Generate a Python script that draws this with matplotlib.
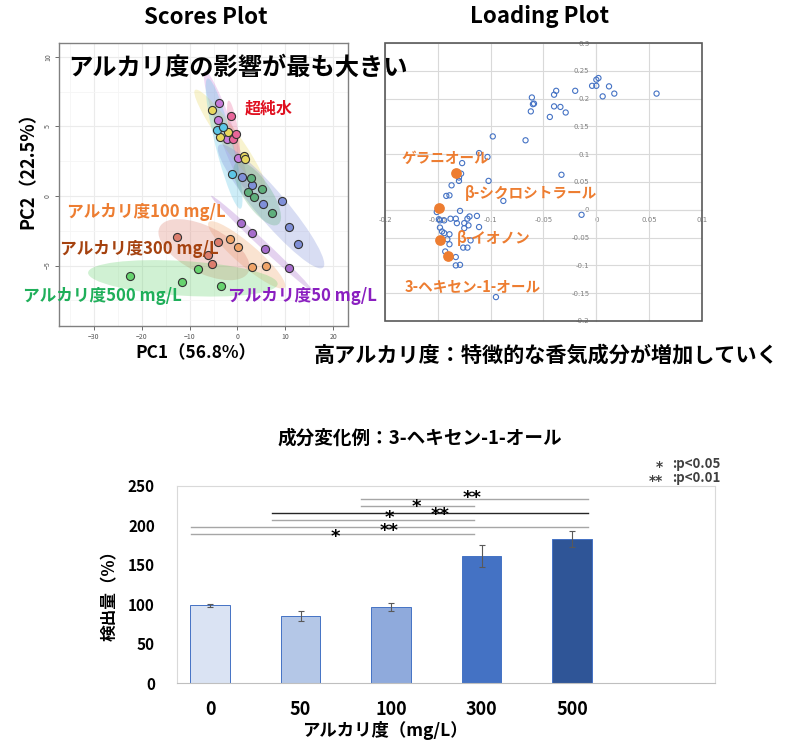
import numpy as np
import matplotlib
matplotlib.use('Agg')
import matplotlib.pyplot as plt
from matplotlib.patches import Ellipse, Rectangle

plt.rcParams['font.family'] = ['Noto Sans CJK JP', 'DejaVu Sans']

W, H = 800, 745

# ---- scores plot (PC1 / PC2), one entry per sample ----
score_group = (['A'] * 4 + ['B'] * 5 + ['超純水'] * 3 + ['C'] * 3 + ['D'] * 6 + ['E'] * 5
               + ['50'] * 4 + ['100'] * 4 + ['300'] * 4 + ['500'] * 4)
score_pc1 = [-3.77, -3.97, -2.22, 0.08,
             -5.36, -1.88, -3.62, 1.26, 1.61,
             -1.38, -0.84, -0.27,
             -4.31, -2.93, -1.17,
             1.05, 3.14, 5.31, 9.29, 10.75, 12.55,
             2.80, 5.10, 2.18, 3.35, 7.20,
             0.71, 3.14, 5.65, 10.82,
             -1.53, 0.21, 3.01, 6.00,
             -12.68, -3.97, -6.07, -5.23,
             -22.45, -11.63, -8.16, -3.41]
score_pc2 = [6.71, 5.47, 4.10, 2.71,
             6.19, 4.63, 4.27, 2.88, 2.64,
             5.73, 4.10, 4.46,
             4.75, 4.99, 1.56,
             1.39, 0.77, -0.60, -0.36, -2.21, -3.47,
             1.32, 0.53, 0.31, -0.05, -1.24,
             -1.96, -2.68, -3.81, -5.16,
             -3.12, -3.69, -5.13, -5.01,
             -2.93, -3.33, -4.27, -4.91,
             -5.76, -6.21, -5.25, -6.47]
group_names = ['A', 'B', '超純水', 'C', 'D', 'E', '50', '100', '300', '500']
group_colors = ['#C77BD9', '#E8D860', '#E8669A', '#5CC6E6', '#7F8FD8', '#5FAF7C',
                '#A66CCC', '#F0A468', '#DC7E6E', '#66D36E']

# ---- loading plot ----
loading_x = [0.002, 0.0, -0.004, 0.0, 0.012, 0.017, 0.006, 0.057, -0.020, -0.038, -0.040,
             -0.061, -0.059, -0.060, -0.062, -0.040, -0.034, -0.029, -0.044, -0.067, -0.098,
             -0.033, -0.014,
             -0.111, -0.103, -0.127, -0.131, -0.128, -0.130, -0.130, -0.137, -0.139, -0.142,
             -0.102, -0.088, -0.129, -0.151, -0.149, -0.148, -0.144, -0.138, -0.133, -0.132,
             -0.120, -0.122, -0.113, -0.125, -0.121, -0.125, -0.111, -0.148, -0.146, -0.144,
             -0.139, -0.141, -0.139, -0.119, -0.126, -0.122, -0.143, -0.133, -0.133, -0.129,
             -0.095]
loading_y = [0.237, 0.234, 0.223, 0.223, 0.222, 0.209, 0.204, 0.209, 0.214, 0.214, 0.207,
             0.202, 0.191, 0.190, 0.177, 0.186, 0.185, 0.175, 0.167, 0.125, 0.132,
             0.063, -0.009,
             0.102, 0.095, 0.084, 0.065, 0.065, 0.058, 0.052, 0.044, 0.026, 0.025,
             0.052, 0.016, -0.002, -0.004, -0.017, -0.019, -0.019, -0.016, -0.016, -0.024,
             -0.012, -0.016, -0.011, -0.024, -0.028, -0.033, -0.031, -0.032, -0.039, -0.042,
             -0.044, -0.053, -0.062, -0.055, -0.068, -0.068, -0.075, -0.085, -0.100, -0.099,
             -0.157]
key_names = ['ゲラニオール', 'β-シクロシトラール', 'β-イオノン', '3-ヘキセン-1-オール']
key_x = [-0.133, -0.149, -0.148, -0.140]
key_y = [0.067, 0.004, -0.054, -0.083]

# ---- bar chart ----
alk_levels = ['0', '50', '100', '300', '500']
amount = [98.5, 85.4, 96.0, 160.7, 182.7]
amount_err = [2.0, 6.5, 5.0, 14.0, 10.0]
bar_colors = ['#DAE3F3', '#B4C7E7', '#8FAADC', '#4472C4', '#2F5597']
# significance brackets (category units / %)
sig_start = [1.67, 1.67, 0.69, 0.69, -0.21, -0.21]
sig_end = [4.18, 2.92, 4.18, 2.92, 4.18, 2.92]
sig_height = [234, 225, 216, 207, 198, 188.7]
sig_mark = ['**', '*', '**', '*', '**', '*']
sig_mark_x = [2.90, 2.28, 2.54, 1.98, 1.98, 1.38]
sig_mark_y = [239.4, 228.8, 218.3, 211.5, 201.0, 190.8]


def fx(px):
    return px / W


def fy(py):
    return 1 - py / H


def conf_ellipse(ax, x, y, color):
    # 95% normal confidence ellipse from the group's covariance
    cov = np.cov(x, y)
    vals, vecs = np.linalg.eigh(cov)
    order = vals.argsort()[::-1]
    vals, vecs = vals[order], vecs[:, order]
    angle = np.degrees(np.arctan2(vecs[1, 0], vecs[0, 0]))
    k = np.sqrt(5.991)
    w, h = 2 * k * np.sqrt(np.maximum(vals, 1e-6))
    ax.add_patch(Ellipse((np.mean(x), np.mean(y)), w, h, angle=angle,
                         facecolor=color, edgecolor='none', alpha=0.3, zorder=1))


fig = plt.figure(figsize=(W / 100, H / 100), dpi=100)

# ================= Scores plot =================
ax1 = fig.add_axes([fx(59), fy(326), 289 / W, 283 / H])
pc1 = np.array(score_pc1)
pc2 = np.array(score_pc2)
grp = np.array(score_group)
for name, col in zip(group_names, group_colors):
    m = grp == name
    conf_ellipse(ax1, pc1[m], pc2[m], col)
for name, col in zip(group_names, group_colors):
    m = grp == name
    ax1.scatter(pc1[m], pc2[m], s=34, color=col, edgecolor='#333333', linewidth=0.8, zorder=3)
ax1.set_xlim(-37.3, 23.1)
ax1.set_ylim(-9.35, 11.0)
ax1.set_xticks([-30, -20, -10, 0, 10, 20])
ax1.set_yticks([-5, 0, 5, 10])
ax1.set_xticks(np.arange(-35, 25, 10), minor=True)
ax1.set_yticks([-7.5, -2.5, 2.5, 7.5], minor=True)
ax1.grid(which='major', color='#EBEBEB', linewidth=0.8)
ax1.grid(which='minor', color='#F5F5F5', linewidth=0.6)
ax1.set_axisbelow(True)
ax1.tick_params(which='major', labelsize=5, colors='#555555', length=3, width=0.6, pad=2)
ax1.tick_params(which='minor', length=0)
for lab in ax1.get_yticklabels():
    lab.set_rotation(90)
    lab.set_va('center')
for s in ax1.spines.values():
    s.set_color('#808080')
    s.set_linewidth(1)

fig.text(fx(206), fy(17), 'Scores Plot', ha='center', va='center', fontsize=16, weight='bold')
fig.text(fx(196), fy(353), 'PC1（56.8%）', ha='center', va='center', fontsize=12.5, weight='bold')
fig.text(fx(28), fy(166), 'PC2（22.5%）', ha='center', va='center', fontsize=13,
         weight='bold', rotation=90)

fig.text(fx(245), fy(109), '超純水', ha='left', va='center', fontsize=11.5, weight='bold',
         color='#E01020')
fig.text(fx(67), fy(212), 'アルカリ度100 mg/L', ha='left', va='center', fontsize=12,
         weight='bold', color='#ED7D31')
fig.text(fx(60), fy(249), 'アルカリ度300 mg/L', ha='left', va='center', fontsize=12,
         weight='bold', color='#A5420F')
fig.text(fx(23), fy(296), 'アルカリ度500 mg/L', ha='left', va='center', fontsize=12,
         weight='bold', color='#1FAF5A')
fig.text(fx(228), fy(296), 'アルカリ度50 mg/L', ha='left', va='center', fontsize=12,
         weight='bold', color='#8A1FC0')

# ================= Loading plot =================
ax2 = fig.add_axes([fx(385), fy(321), 317 / W, 278 / H])
ax2.scatter(loading_x, loading_y, s=14, facecolor='none', edgecolor='#4472C4',
            linewidth=0.8, zorder=3)
ax2.scatter(key_x, key_y, s=45, color='#ED7D31', zorder=4)
ax2.set_xlim(-0.2, 0.1)
ax2.set_ylim(-0.2, 0.3)
ax2.set_xticks(np.arange(-0.2, 0.101, 0.05))
ax2.set_yticks(np.arange(-0.2, 0.301, 0.05))
ax2.set_xticklabels(['-0.2', '-0.15', '-0.1', '-0.05', '0', '0.05', '0.1'])
ax2.set_yticklabels(['-0.2', '-0.15', '-0.1', '-0.05', '0', '0.05', '0.1', '0.15', '0.2',
                     '0.25', '0.3'])
ax2.grid(color='#D9D9D9', linewidth=0.8)
ax2.set_axisbelow(True)
ax2.spines['left'].set_position(('data', 0))
ax2.spines['bottom'].set_position(('data', 0))
ax2.spines['left'].set_color('#D9D9D9')
ax2.spines['bottom'].set_color('#D9D9D9')
ax2.spines['top'].set_visible(False)
ax2.spines['right'].set_visible(False)
ax2.tick_params(length=0, labelsize=5, colors='#808080', pad=5)
for lab in ax2.get_xticklabels() + ax2.get_yticklabels():
    lab.set_family('DejaVu Sans')
ax2.add_patch(Rectangle((0, 0), 1, 1, transform=ax2.transAxes, fill=False,
                        edgecolor='#595959', linewidth=1.2, clip_on=False, zorder=5))

fig.text(fx(539), fy(17), 'Loading Plot', ha='center', va='center', fontsize=16, weight='bold')

label_pos = [(402, 158), (465, 193), (457, 238), (405, 286)]
for name, (px, py) in zip(key_names, label_pos):
    fig.text(fx(px), fy(py), name, ha='left', va='center', fontsize=10.5, weight='bold',
             color='#ED7D31')

fig.text(fx(68), fy(68), 'アルカリ度の影響が最も大きい', ha='left', va='center', fontsize=17.5,
         weight='bold', color='black', zorder=10)
fig.text(fx(314), fy(355), '高アルカリ度：特徴的な香気成分が増加していく', ha='left',
         va='center', fontsize=15.2, weight='bold', color='black')

# ================= Bar chart =================
ax3 = fig.add_axes([fx(177), fy(683), 538 / W, 197 / H])
xpos = np.arange(len(alk_levels))
ax3.bar(xpos, amount, width=0.44, color=bar_colors, edgecolor='#4472C4', linewidth=0.7,
        yerr=amount_err, capsize=2,
        error_kw=dict(ecolor='#595959', elinewidth=0.8, capthick=0.8), zorder=2)
for i, (x0, x1, h) in enumerate(zip(sig_start, sig_end, sig_height)):
    col = '#262626' if i == 2 else '#A6A6A6'
    ax3.plot([x0, x1], [h, h], color=col, linewidth=1, zorder=3)

# marks that share an x position are stacked into one text
done = set()
for k, mx in enumerate(sig_mark_x):
    if k in done:
        continue
    same = [j for j in range(len(sig_mark_x)) if sig_mark_x[j] == mx]
    done.update(same)
    same.sort(key=lambda j: -sig_mark_y[j])
    txt = '\n'.join(sig_mark[j] for j in same)
    ymid = np.mean([sig_mark_y[j] for j in same])
    # asterisk glyph sits high in its box, so shift the box down a little
    ax3.text(mx, ymid - 5, txt, ha='center', va='center', ma='center', fontsize=13,
             weight='bold', family='DejaVu Sans', linespacing=0.6, zorder=4)

ax3.set_xlim(-0.365, 5.58)
ax3.set_ylim(0, 250)
ax3.set_yticks(np.arange(0, 251, 50))
ax3.set_xticks(xpos)
ax3.set_xticklabels(alk_levels)
ax3.tick_params(axis='y', length=0, labelsize=11, pad=16)
ax3.tick_params(axis='x', length=0, labelsize=13, pad=12)
for lab in ax3.get_xticklabels() + ax3.get_yticklabels():
    lab.set_weight('bold')
for s in ax3.spines.values():
    s.set_color('#D9D9D9')
    s.set_linewidth(0.8)
ax3.spines['bottom'].set_color('#BFBFBF')

fig.text(fx(420), fy(438), '成分変化例：3-ヘキセン-1-オール', ha='center', va='center',
         fontsize=13.4, weight='bold')
fig.text(fx(385), fy(730), 'アルカリ度（mg/L）', ha='center', va='center', fontsize=12.5,
         weight='bold')
fig.text(fx(110), fy(591), '検出量（%）', ha='center', va='center', fontsize=12,
         weight='bold', rotation=90)

# significance legend
fig.text(fx(663), fy(474), '*\n**', ha='right', va='center', ma='right', fontsize=10,
         weight='bold', color='#404040', family='DejaVu Sans', linespacing=1.0)
fig.text(fx(672), fy(471), ':p<0.05\n:p<0.01', ha='left', va='center', fontsize=9.5,
         weight='bold', color='#404040', linespacing=0.95)

fig.savefig('out.png', dpi=100, facecolor='white')
